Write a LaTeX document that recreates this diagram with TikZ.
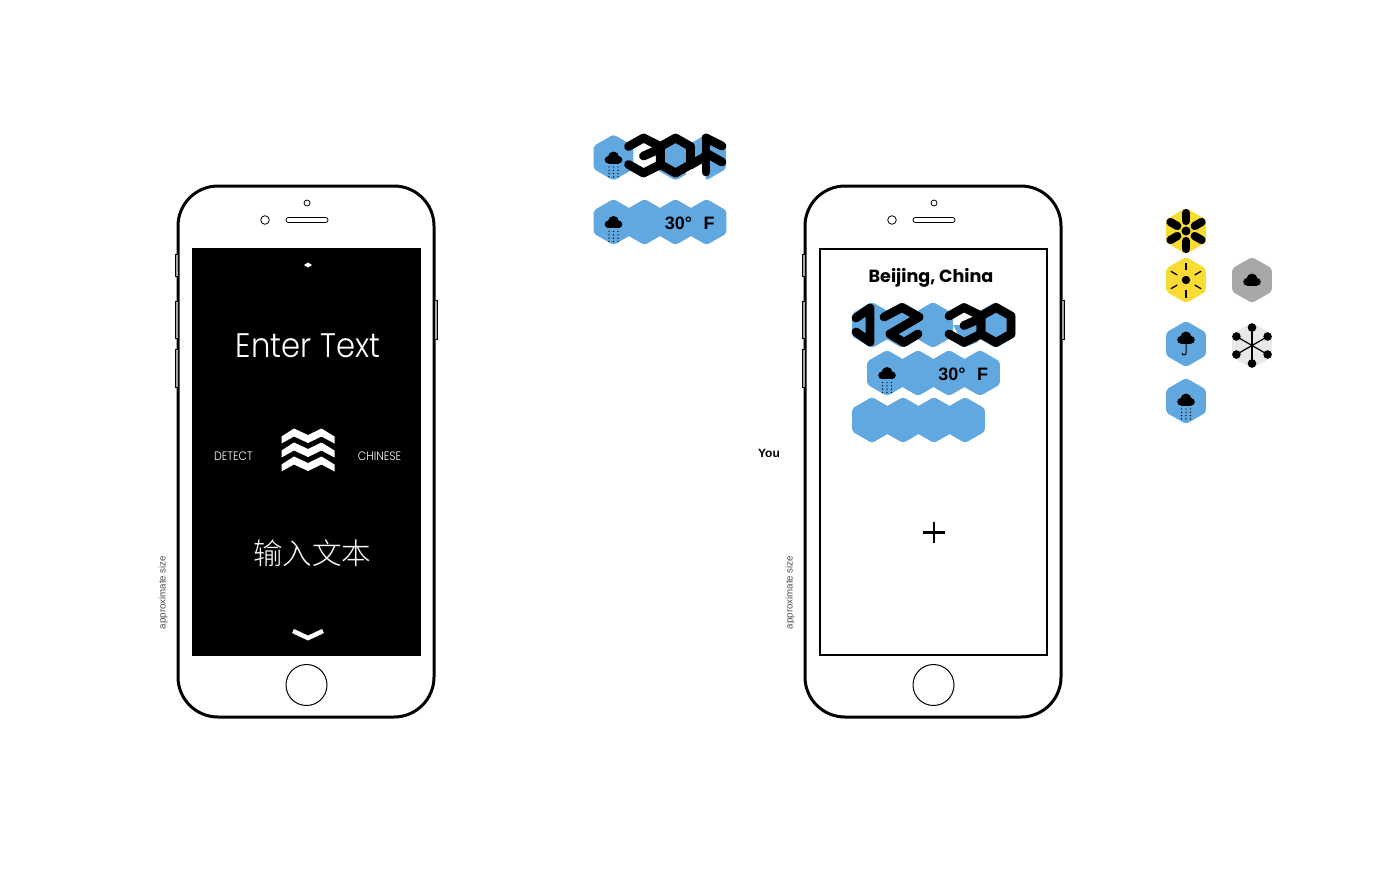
\documentclass[tikz,border=0pt]{standalone}
\usepackage{fontspec}
\usepackage{xcolor}
\usetikzlibrary{shapes.geometric,positioning}
\setmainfont{Liberation Sans}
\newfontfamily\displayfont[FakeStretch=0.9]{Poppins Light}
\newfontfamily\headfont{Poppins}
\newfontfamily\cjkfont{Noto Sans CJK SC Light}
\definecolor{skyblue}{HTML}{62A8E0}
\definecolor{sunyellow}{HTML}{F8DC32}
\definecolor{cloudgray}{HTML}{A7A8AA}
\definecolor{palegray}{HTML}{E8E8E8}

\begin{document}
\begin{tikzpicture}[
    x=1pt, y=-1pt,
    hexcell/.style={regular polygon, regular polygon sides=6, shape border rotate=30, minimum size=46pt, inner sep=0pt, rounded corners=3pt, fill=#1},
    hexcell/.default=skyblue,
    stroke/.style={line width=8.8pt, line join=round, line cap=round},
    temp/.style={inner sep=0pt, font=\bfseries\fontsize{18}{18}\selectfont},
    small/.style={text=white, inner sep=0pt, font=\displayfont\fontsize{12.2}{12.2}\selectfont},
    pics/phone/.style={code={
        \draw[line width=3pt, rounded corners=40pt, fill=white] (178,186) rectangle (434,717);
        \foreach \ya/\yb in {254/276, 301/338, 349/387}
            \draw[line width=.8pt, fill=cloudgray] (178,\ya) -- (175,\ya) -- (175,\yb) -- (178,\yb);
        \draw[line width=.8pt, fill=cloudgray] (434.5,300) -- (437,300) -- (437,339) -- (434.5,339);
        \draw[line width=.8pt] (307,203) circle (3);
        \draw[line width=.8pt] (265,220) circle (4.3);
        \draw[line width=.8pt, rounded corners=2.4pt] (286,217.5) rectangle (328,222.5);
        \draw[line width=1pt] (306.5,685) circle (20.5);
        \node[inner sep=0pt, text=black!70, rotate=90, font=\fontsize{9.7}{9.7}\selectfont] (sizetag) at (163,592.5) {approximate size};
    }},
    pics/hexrow/.style={code={
        \foreach \i in {0,...,3}
            \node[hexcell] (cell\i) at (\i*31,0) {};
    }},
    pics/cloud/.style={code={
        \fill (0,-1) circle (5.5);
        \fill (-5,1.8) circle (3.8);
        \fill (5,1.8) circle (3.8);
        \fill (-5,1) rectangle (5,5.6);
    }},
    pics/rain/.style={code={
        \pic {cloud};
        \foreach \dx in {-4.5,0,4.5}
            \foreach \dy in {9,12.3,15.6,18.9}
                \fill (\dx,\dy) circle (.7);
    }},
    pics/thirty/.style={code={
        \draw[stroke] (-47,-9) -- (-32,-17.5) -- (-15,-9) -- (-15,9) -- (-32,17.5) -- (-47,9);
        \draw[stroke] (-32,0.5) -- (-15,-7);
        \draw[stroke] (0,-17.5) -- (15,-9) -- (15,9) -- (0,17.5) -- (-15,9) -- (-15,-9) -- cycle;
    }}
]
    \useasboundingbox (0,0) rectangle (1398,884);

    % Left phone
    \pic at (0,0) {phone};
    \fill (192,248) rectangle (421,656);
    \fill[white] (304,265) -- (308,262.5) -- (312,265) -- (308,267.5) -- cycle;
    \node[text=white, inner sep=0pt, font=\displayfont\fontsize{34}{34}\selectfont] (entertext) at (308,346) {Enter Text};
    \foreach \y in {428.5,442.5,456.5}
        \fill[white] (281.5,\y+8) -- (294,\y) -- (308,\y+6.5) -- (321.5,\y) -- (334.5,\y+8)
            -- (334.5,\y+15) -- (321.5,\y+8) -- (308,\y+14.5) -- (294,\y+8) -- (281.5,\y+15) -- cycle;
    \node[small] (detect) at (233.5,456.5) {DETECT};
    \node[small] (chinese) at (379.5,456.5) {CHINESE};
    \node[text=white, inner sep=0pt, font=\cjkfont\fontsize{29.5}{29.5}\selectfont] (entercjk) at (312,553) {输入文本};
    \draw[white, line width=4.5pt] (293,631) -- (308,638) -- (323,631);

    % Temperature tiles
    \node[hexcell] (tileA) at (613.5,157.5) {};
    \node[hexcell] (tileB) at (675.5,157.5) {};
    \node[hexcell] (tileC) at (706,157.5) {};
    \fill[white] (686,158) -- (706,156) -- (706,182) -- (686,182) -- cycle;
    \pic at (613.5,158) {rain};
    \pic at (675.5,155.5) {thirty};
    \draw[stroke] (690.5,165) -- (706,156);
    \draw[stroke] (706,138) -- (706,172);
    \draw[stroke] (706,138) -- (722,146);
    \draw[stroke] (706,153) -- (722,162);

    \pic at (613.5,222) {hexrow};
    \pic at (613.5,222.5) {rain};
    \node[temp] (tempA) at (678.5,223) {30°};
    \node[temp] (unitA) at (709,223) {F};

    % Right phone
    \pic at (627,0) {phone};
    \draw[line width=2pt] (820,249) rectangle (1047,655);
    \node[inner sep=0pt, font=\headfont\bfseries\fontsize{17.6}{17.6}\selectfont] (city) at (931,278) {Beijing, China};
    \node[inner sep=0pt, font=\bfseries\fontsize{12}{12}\selectfont] (you) at (769,453) {You};

    \node[hexcell] (clockA) at (872,325) {};
    \node[hexcell] (clockB) at (902,325) {};
    \node[hexcell] (clockC) at (933,325) {};
    \node[hexcell] (clockD) at (995.5,325) {};
    \fill[skyblue] (953,325) -- (978,325) -- (978,342) -- (965,347) -- cycle;
    \draw[stroke] (856,318) -- (870,308) -- (870,342) -- (856,332);
    \draw[stroke] (884,317) -- (902,307.5) -- (919,317) -- (890,334) -- (904,342.5) -- (918,334);
    \pic at (996,325) {thirty};

    \pic at (887,373) {hexrow};
    \pic at (887,373.5) {rain};
    \node[temp] (tempB) at (952,374) {30°};
    \node[temp] (unitB) at (982.5,374) {F};
    \pic at (872,420) {hexrow};
    \draw[line width=2.5pt] (923,532.5) -- (945,532.5) (934,522) -- (934,543);

    % Weather icons
    \node[hexcell=sunyellow] (iconflower) at (1186,231) {};
    \begin{scope}[shift={(1186,231)}]
        \foreach \a in {30,90,...,330}
            \draw[line width=8.2pt, line cap=round] (\a:10) -- (\a:18);
        \fill (0,0) circle (4.5);
    \end{scope}
    \node[hexcell=sunyellow] (iconsun) at (1186,280) {};
    \begin{scope}[shift={(1186,280)}]
        \foreach \a in {30,90,...,330}
            \draw[line width=1.3pt] (\a:10) -- (\a:17.5);
        \fill (0,0) circle (4.2);
    \end{scope}
    \node[hexcell=cloudgray] (iconcloud) at (1252,280) {};
    \pic at (1252,280) {cloud};
    \node[hexcell] (iconumbrella) at (1186,344) {};
    \pic at (1186,338) {cloud};
    \draw[line width=1pt] (1186,343) -- (1186,353) arc[start angle=0, end angle=180, radius=2];
    \node[hexcell=palegray] (iconsnow) at (1252,345.5) {};
    \begin{scope}[shift={(1252,345.5)}]
        \foreach \a in {30,90,...,330} {
            \draw[line width=1.2pt] (0,0) -- (\a:18);
            \fill (\a:18) circle (4.3);
        }
        \fill (0,0) circle (1.5);
    \end{scope}
    \node[hexcell] (iconrain) at (1186,401) {};
    \pic at (1186,400) {rain};
\end{tikzpicture}
\end{document}
